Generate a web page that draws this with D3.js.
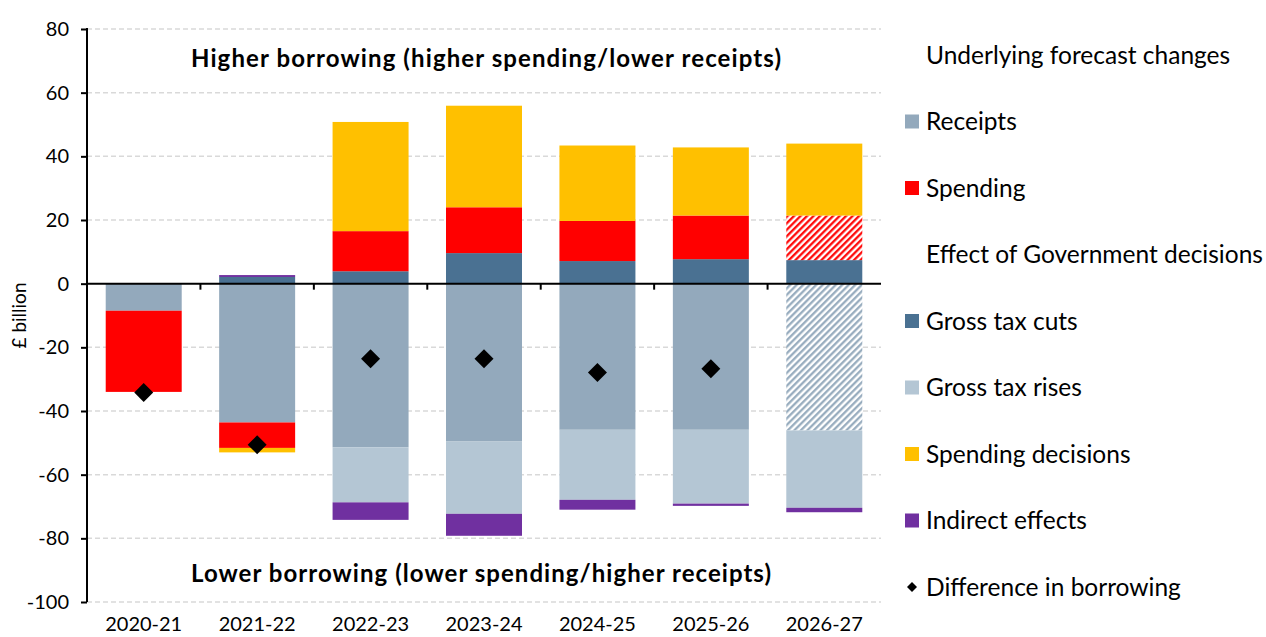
<!DOCTYPE html>
<html>
<head>
<meta charset="utf-8">
<script src="https://cdn.jsdelivr.net/npm/d3@7"></script>
<style>
  body { margin: 0; background: #fff; }
  text { font-family: Lato, "Open Sans", sans-serif; fill: #000; }
</style>
</head>
<body>
<div id="chart"></div>
<script>
const years = ['2020-21', '2021-22', '2022-23', '2023-24', '2024-25', '2025-26', '2026-27'];
const receipts = [-8.5, -43.6, -51.4, -49.6, -45.9, -45.9, -46.1];
const spending = [-25.5, -8.0, 12.6, 14.4, 12.6, 13.7, 14.0];
const grossTaxCuts = [0, 2.1, 3.9, 9.6, 7.1, 7.7, 7.4];
const grossTaxRises = [0, 0, -17.3, -22.7, -22.0, -23.2, -24.3];
const spendingDecisions = [0, -1.4, 34.3, 31.9, 23.7, 21.4, 22.6];
const indirectEffects = [0, 0.6, -5.5, -6.9, -3.1, -0.7, -1.4];
const difference = [-34.2, -50.6, -23.6, -23.6, -27.9, -26.7, null];
const hatched = [false, false, false, false, false, false, true];
const yTicks = [-100, -80, -60, -40, -20, 0, 20, 40, 60, 80];

const keys = ['receipts', 'grossTaxCuts', 'spending', 'grossTaxRises', 'spendingDecisions', 'indirect'];
const colors = {
    receipts: '#93a9bc',
    spending: '#ff0000',
    grossTaxCuts: '#4a7192',
    grossTaxRises: '#b4c6d4',
    spendingDecisions: '#ffc000',
    indirect: '#7030a0'
};
const legendItems = [
    { label: 'Underlying forecast changes' },
    { label: 'Receipts', key: 'receipts' },
    { label: 'Spending', key: 'spending' },
    { label: 'Effect of Government decisions' },
    { label: 'Gross tax cuts', key: 'grossTaxCuts' },
    { label: 'Gross tax rises', key: 'grossTaxRises' },
    { label: 'Spending decisions', key: 'spendingDecisions' },
    { label: 'Indirect effects', key: 'indirect' },
    { label: 'Difference in borrowing', diamond: true }
];

const w = 1266;
const h = 637;
const plotLeft = 87, plotRight = 881, plotTop = 29, plotBottom = 602;

const rows = years.map((y, i) => ({
    year: y,
    receipts: receipts[i],
    spending: spending[i],
    grossTaxCuts: grossTaxCuts[i],
    grossTaxRises: grossTaxRises[i],
    spendingDecisions: spendingDecisions[i],
    indirect: indirectEffects[i],
    hatched: hatched[i]
}));

const svg = d3.select('#chart').append('svg').attr('width', w).attr('height', h);

// hatch patterns for the final year
const defs = svg.append('defs');
['receipts', 'spending'].forEach(k => {
    const p = defs.append('pattern')
        .attr('id', 'hatch-' + k)
        .attr('patternUnits', 'userSpaceOnUse')
        .attr('width', 4.6)
        .attr('height', 4.6)
        .attr('patternTransform', 'rotate(45)');
    p.append('rect').attr('width', 4.6).attr('height', 4.6).attr('fill', '#fff');
    p.append('line').attr('x1', 1.2).attr('x2', 1.2).attr('y1', 0).attr('y2', 4.6)
        .attr('stroke', colors[k]).attr('stroke-width', 2.2);
});

const xScale = d3.scaleBand().domain(years).range([plotLeft, plotRight]).paddingInner(0.33).paddingOuter(0.165);
const yScale = d3.scaleLinear().domain([-100, 80]).range([plotBottom, plotTop]);

// gridlines
svg.append('g')
    .selectAll('line')
    .data(yTicks.filter(t => t !== 0))
    .enter()
    .append('line')
    .attr('x1', plotLeft).attr('x2', plotRight)
    .attr('y1', d => yScale(d)).attr('y2', d => yScale(d))
    .attr('stroke', '#d9d9d9').attr('stroke-width', 1.5).attr('stroke-dasharray', '5,3');

// y axis
const yAxis = d3.axisLeft(yScale).tickValues(yTicks).tickFormat(d => String(d)).tickSize(6).tickPadding(12);
const yg = svg.append('g').attr('transform', `translate(${plotLeft},0)`).call(yAxis);
yg.select('.domain').attr('stroke', '#000').attr('stroke-width', 2).attr('d', `M0,${plotTop - 1}V${plotBottom}`);
yg.selectAll('.tick line').attr('stroke', '#000').attr('stroke-width', 2);
yg.selectAll('.tick text').style('font-size', '20px').style('font-family', 'Lato, sans-serif').attr('fill', '#000');

svg.append('text')
    .attr('transform', `translate(26,${(plotTop + plotBottom) / 2}) rotate(-90)`)
    .attr('text-anchor', 'middle')
    .style('font-size', '19px')
    .text('£ billion');

// stacked bars
const stack = d3.stack().keys(keys).offset(d3.stackOffsetDiverging);
const series = stack(rows);

svg.append('g')
    .selectAll('g')
    .data(series)
    .enter()
    .append('g')
    .each(function (s) {
        d3.select(this).selectAll('rect')
            .data(s.filter(d => d[1] - d[0] !== 0))
            .enter()
            .append('rect')
            .attr('x', d => xScale(d.data.year))
            .attr('width', xScale.bandwidth())
            .attr('y', d => yScale(Math.max(d[0], d[1])))
            .attr('height', d => Math.abs(yScale(d[0]) - yScale(d[1])))
            .attr('fill', d => (d.data.hatched && (s.key === 'receipts' || s.key === 'spending'))
                ? `url(#hatch-${s.key})` : colors[s.key]);
    });

// zero line and x ticks
svg.append('line')
    .attr('x1', plotLeft).attr('x2', plotRight)
    .attr('y1', yScale(0)).attr('y2', yScale(0))
    .attr('stroke', '#000').attr('stroke-width', 2);

svg.append('g')
    .selectAll('line')
    .data(years.slice(1))
    .enter()
    .append('line')
    .attr('x1', d => xScale(d) - xScale.step() * xScale.paddingInner() / 2)
    .attr('x2', d => xScale(d) - xScale.step() * xScale.paddingInner() / 2)
    .attr('y1', yScale(0)).attr('y2', yScale(0) + 6)
    .attr('stroke', '#000').attr('stroke-width', 2);

svg.append('g')
    .selectAll('text')
    .data(years)
    .enter()
    .append('text')
    .attr('x', d => xScale(d) + xScale.bandwidth() / 2)
    .attr('y', 631)
    .attr('text-anchor', 'middle')
    .style('font-size', '20px')
    .text(d => d);

// difference diamonds
const diamond = d3.symbol().type(d3.symbolSquare).size(180);
svg.append('g')
    .selectAll('path')
    .data(years.map((y, i) => ({ year: y, v: difference[i] })).filter(d => d.v !== null))
    .enter()
    .append('path')
    .attr('d', diamond)
    .attr('transform', d => `translate(${xScale(d.year) + xScale.bandwidth() / 2},${yScale(d.v)}) rotate(45)`)
    .attr('fill', '#000');

// annotations
svg.append('text')
    .attr('x', 191).attr('y', 67)
    .attr('textLength', 590).attr('lengthAdjust', 'spacing')
    .style('font-size', '24px').style('font-weight', 700)
    .text('Higher borrowing (higher spending/lower receipts)');

svg.append('text')
    .attr('x', 191).attr('y', 582)
    .attr('textLength', 580).attr('lengthAdjust', 'spacing')
    .style('font-size', '24px').style('font-weight', 700)
    .text('Lower borrowing (lower spending/higher receipts)');

// legend
const legend = svg.append('g')
    .selectAll('g')
    .data(legendItems)
    .enter()
    .append('g')
    .attr('transform', (d, i) => `translate(905,${55 + i * 66.5})`);

legend.filter(d => d.key)
    .append('rect')
    .attr('x', 0).attr('y', -7).attr('width', 14).attr('height', 14)
    .attr('fill', d => colors[d.key]);

legend.filter(d => d.diamond)
    .append('path')
    .attr('d', d3.symbol().type(d3.symbolSquare).size(50))
    .attr('transform', 'translate(7,0) rotate(45)')
    .attr('fill', '#000');

legend.append('text')
    .attr('x', 21).attr('y', 0)
    .attr('dy', '0.36em')
    .style('font-size', '24.5px')
    .text(d => d.label);
</script>
</body>
</html>
